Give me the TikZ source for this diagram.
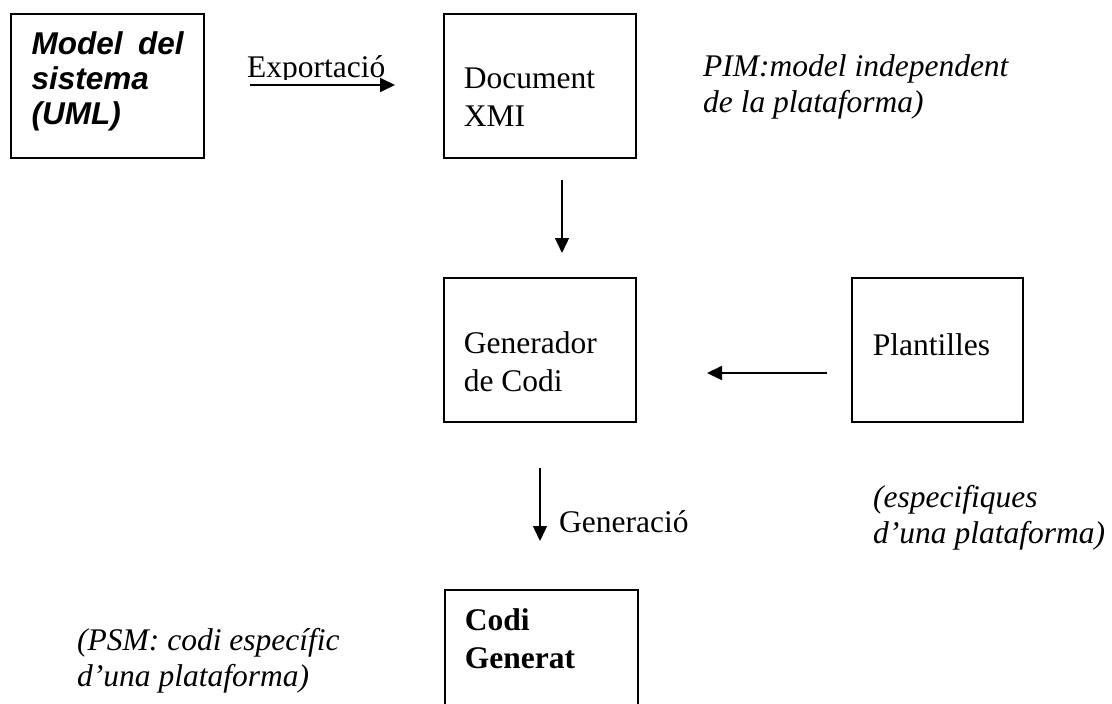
\documentclass[tikz,border=0pt]{standalone}
\usepackage{fontspec}
\setmainfont{Liberation Serif}
\newfontfamily\modelfont{Liberation Sans}
\usetikzlibrary{arrows.meta}

% text block inside a box: width, height, gap above the first line, lines
\newcommand\boxtext[4]{\parbox[t][#2][t]{#1}{\vspace*{#3}\strut#4}}

\begin{document}
\begin{tikzpicture}[x=1pt,y=-1pt,
  txt/.style={inner sep=0pt, font=\fontsize{31.5}{37.5}\selectfont},
  box/.style={txt, draw, line width=1.7pt, inner ysep=0pt, inner xsep=20pt, anchor=north west},
  note/.style={inner sep=0pt, anchor=base west, font=\fontsize{31.5}{36.5}\selectfont\itshape},
  arr/.style={-{Triangle[length=15pt,width=14pt]}, line width=1.4pt},
]
\clip (0,0) rectangle (1112,704);

% boxes
\node[box, line width=2.3pt, inner xsep=20.5pt,
      font=\modelfont\fontsize{31.5}{35}\selectfont\bfseries\itshape] (model) at (10,13)
  {\boxtext{152pt}{144pt}{15.5pt}{\makebox[152pt][s]{Model del}\\sistema\\(UML)}};
\node[box] (doc) at (443,13) {\boxtext{152pt}{144pt}{48.75pt}{Document\\XMI}};
\node[box] (gen) at (443,277) {\boxtext{152pt}{144pt}{49.75pt}{Generador\\de Codi}};
\node[box, inner xsep=21pt] (pla) at (851,277) {\boxtext{129pt}{144pt}{51.75pt}{Plantilles}};
\node[box, font=\fontsize{31.5}{37.5}\selectfont\bfseries] (codi) at (444,589)
  {\boxtext{153pt}{144pt}{14.75pt}{Codi\\Generat}};

% labels
\begin{scope}
  \clip (230,40) rectangle (420,79);
  \node[txt, anchor=base west] (exp) at (247,77) {Exportació};
\end{scope}
\node[txt, anchor=base west] (gnr) at (559,532) {Generació};
\node[note] (pim) at (703,76) {\parbox[t]{330pt}{PIM:model independent\\de la plataforma)}};
\node[note] (esp) at (873,507) {\parbox[t]{250pt}{(especifiques\\d’una plataforma)}};
\node[note] (psm) at (77,650) {\parbox[t]{280pt}{(PSM: codi específic\\d’una plataforma)}};

% arrows
\coordinate (a1s) at (250,85);  \coordinate (a1e) at (395,85);
\coordinate (a2s) at (562,180); \coordinate (a2e) at (562,253);
\coordinate (a3s) at (827,373); \coordinate (a3e) at (707,373);
\coordinate (a4s) at (540,468); \coordinate (a4e) at (540,541);
\draw[arr, line width=2pt] (a1s) -- (a1e);
\draw[arr] (a2s) -- (a2e);
\draw[arr, line width=2pt] (a3s) -- (a3e);
\draw[arr] (a4s) -- (a4e);
\end{tikzpicture}
\end{document}
